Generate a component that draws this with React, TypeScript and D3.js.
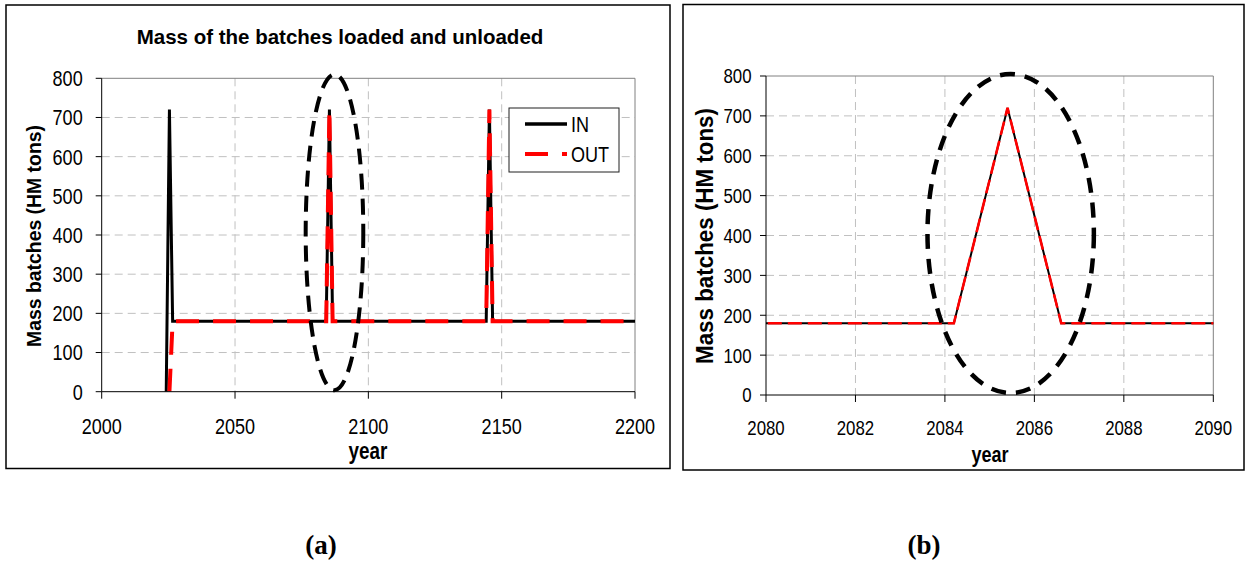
import * as d3 from 'd3';
import { useEffect, useRef } from 'react';

// batch mass (HM tons) per reload year
const inYears = [2024.2, 2025.4, 2026.6, 2084.2, 2085.4, 2086.6, 2144.2, 2145.4, 2146.6, 2200];
const inMass = [0, 720, 180, 180, 720, 180, 180, 720, 180, 180];
const outYears = [2025.4, 2026.6, 2084.2, 2085.4, 2086.6, 2144.2, 2145.4, 2146.6, 2200];
const outMass = [0, 180, 180, 720, 180, 180, 720, 180, 180];

const yTicks = [0, 100, 200, 300, 400, 500, 600, 700, 800];
const xTicksA = [2000, 2050, 2100, 2150, 2200];
const xTicksB = [2080, 2082, 2084, 2086, 2088, 2090];

const ARIAL = '"Liberation Sans", Arial, sans-serif';

interface PanelCfg {
  id: string;
  box: [number, number, number, number];
  plot: { left: number; right: number; top: number; bottom: number };
  xDomain: [number, number];
  xTicks: number[];
  tickFont: number;
  xLabelDy: number;
  yLabelGap: number;
  yTitle: { x: number; y: number; size: number; length: number };
  xTitle: { x: number; y: number; size: number };
  inWidth: number;
  outWidth: number;
  outDash: string;
  ellipse: { cx: number; cy: number; rx: number; ry: number; width: number; dash: string };
  title?: { x: number; y: number; size: number; text: string };
  legend?: boolean;
  caption: { x: number; text: string };
}

const panels: PanelCfg[] = [
  {
    id: 'a',
    box: [6, 5, 670, 468.5],
    plot: { left: 101.7, right: 635, top: 78.3, bottom: 391.7 },
    xDomain: [2000, 2200],
    xTicks: xTicksA,
    tickFont: 22,
    xLabelDy: 42,
    yLabelGap: 19,
    yTitle: { x: 34, y: 236, size: 21, length: 222 },
    xTitle: { x: 368, y: 459, size: 23 },
    inWidth: 3,
    outWidth: 4,
    outDash: '23,14',
    ellipse: { cx: 2087.3, cy: 407, rx: 10.8, ry: 403, width: 4, dash: '16,9' },
    title: { x: 340, y: 44, size: 20.5, text: 'Mass of the batches loaded and unloaded' },
    legend: true,
    caption: { x: 321, text: '(a)' },
  },
  {
    id: 'b',
    box: [683, 4.5, 1244, 470],
    plot: { left: 766, right: 1213.3, top: 76, bottom: 395 },
    xDomain: [2080, 2090],
    xTicks: xTicksB,
    tickFont: 20.5,
    xLabelDy: 40,
    yLabelGap: 14.5,
    yTitle: { x: 705, y: 236, size: 24, length: 256 },
    xTitle: { x: 990, y: 462, size: 22 },
    inWidth: 2,
    outWidth: 2.6,
    outDash: '14,6',
    ellipse: { cx: 2085.47, cy: 405, rx: 1.86, ry: 400, width: 4.5, dash: '15,10' },
    caption: { x: 924, text: '(b)' },
  },
];

// no Arial Narrow here, so squeeze Liberation Sans glyphs to a narrow width
function narrow(sel: d3.Selection<SVGTextElement, any, any, any>, factor = 0.82) {
  sel.each(function () {
    const len = this.getComputedTextLength();
    this.setAttribute('textLength', String(len * factor));
    this.setAttribute('lengthAdjust', 'spacingAndGlyphs');
  });
}

function drawPanel(svg: d3.Selection<SVGSVGElement, unknown, null, undefined>, cfg: PanelCfg) {
  const { plot } = cfg;
  const x = d3.scaleLinear().domain(cfg.xDomain).range([plot.left, plot.right]);
  const y = d3.scaleLinear().domain([0, 800]).range([plot.bottom, plot.top]);
  const g = svg.append('g');

  const [bx0, by0, bx1, by1] = cfg.box;
  g.append('rect')
    .attr('x', bx0)
    .attr('y', by0)
    .attr('width', bx1 - bx0)
    .attr('height', by1 - by0)
    .attr('fill', 'white')
    .attr('stroke', 'black')
    .attr('stroke-width', 1.5);

  if (cfg.title) {
    g.append('text')
      .attr('x', cfg.title.x)
      .attr('y', cfg.title.y)
      .attr('text-anchor', 'middle')
      .attr('font-family', ARIAL)
      .attr('font-weight', 'bold')
      .attr('font-size', cfg.title.size)
      .text(cfg.title.text);
  }

  // gridlines
  g.selectAll('.hgrid')
    .data(yTicks.filter((t) => t > 0 && t < 800))
    .join('line')
    .attr('x1', plot.left)
    .attr('x2', plot.right)
    .attr('y1', (d) => y(d))
    .attr('y2', (d) => y(d))
    .attr('stroke', '#c0c0c0')
    .attr('stroke-dasharray', '8,5');
  g.selectAll('.vgrid')
    .data(cfg.xTicks.slice(1, -1))
    .join('line')
    .attr('x1', (d) => x(d))
    .attr('x2', (d) => x(d))
    .attr('y1', plot.top)
    .attr('y2', plot.bottom)
    .attr('stroke', '#c0c0c0')
    .attr('stroke-dasharray', '8,5');

  // top/right frame
  g.append('path')
    .attr('d', `M${plot.left},${plot.top}H${plot.right}V${plot.bottom}`)
    .attr('fill', 'none')
    .attr('stroke', '#808080');

  const clipId = `clip-${cfg.id}`;
  svg
    .append('clipPath')
    .attr('id', clipId)
    .append('rect')
    .attr('x', plot.left)
    .attr('y', plot.top - 10)
    .attr('width', plot.right - plot.left)
    .attr('height', plot.bottom - plot.top + 10);

  const line = d3
    .line<[number, number]>()
    .x((d) => x(d[0]))
    .y((d) => y(d[1]));

  const lines = g.append('g').attr('clip-path', `url(#${clipId})`);
  lines
    .append('path')
    .attr('d', line(inYears.map((yr, i) => [yr, inMass[i]] as [number, number])))
    .attr('fill', 'none')
    .attr('stroke', 'black')
    .attr('stroke-width', cfg.inWidth);
  lines
    .append('path')
    .attr('d', line(outYears.map((yr, i) => [yr, outMass[i]] as [number, number])))
    .attr('fill', 'none')
    .attr('stroke', '#ff0000')
    .attr('stroke-width', cfg.outWidth)
    .attr('stroke-dasharray', cfg.outDash);

  // axes
  g.append('line')
    .attr('x1', plot.left)
    .attr('x2', plot.left)
    .attr('y1', plot.top)
    .attr('y2', plot.bottom)
    .attr('stroke', 'black');
  g.append('line')
    .attr('x1', plot.left)
    .attr('x2', plot.right)
    .attr('y1', plot.bottom)
    .attr('y2', plot.bottom)
    .attr('stroke', 'black');

  g.selectAll('.ytick')
    .data(yTicks)
    .join('line')
    .attr('x1', plot.left - 6)
    .attr('x2', plot.left)
    .attr('y1', (d) => y(d))
    .attr('y2', (d) => y(d))
    .attr('stroke', 'black');
  g.selectAll<SVGTextElement, number>('.ylab')
    .data(yTicks)
    .join('text')
    .attr('x', plot.left - cfg.yLabelGap)
    .attr('y', (d) => y(d))
    .attr('dy', '0.36em')
    .attr('text-anchor', 'end')
    .attr('font-family', ARIAL)
    .attr('font-size', cfg.tickFont)
    .text((d) => d)
    .call(narrow);

  g.selectAll('.xtick')
    .data(cfg.xTicks)
    .join('line')
    .attr('x1', (d) => x(d))
    .attr('x2', (d) => x(d))
    .attr('y1', plot.bottom)
    .attr('y2', plot.bottom + 7)
    .attr('stroke', 'black');
  g.selectAll<SVGTextElement, number>('.xlab')
    .data(cfg.xTicks)
    .join('text')
    .attr('x', (d) => x(d))
    .attr('y', plot.bottom + cfg.xLabelDy)
    .attr('text-anchor', 'middle')
    .attr('font-family', ARIAL)
    .attr('font-size', cfg.tickFont)
    .text((d) => d)
    .call(narrow);

  g.append('text')
    .attr('transform', `translate(${cfg.yTitle.x},${cfg.yTitle.y}) rotate(-90)`)
    .attr('dy', '0.35em')
    .attr('text-anchor', 'middle')
    .attr('font-family', ARIAL)
    .attr('font-weight', 'bold')
    .attr('font-size', cfg.yTitle.size)
    .attr('textLength', cfg.yTitle.length)
    .attr('lengthAdjust', 'spacingAndGlyphs')
    .text('Mass batches (HM tons)');

  g.append('text')
    .attr('x', cfg.xTitle.x)
    .attr('y', cfg.xTitle.y)
    .attr('text-anchor', 'middle')
    .attr('font-family', ARIAL)
    .attr('font-weight', 'bold')
    .attr('font-size', cfg.xTitle.size)
    .text('year')
    .call(narrow);

  // highlighted region
  const e = cfg.ellipse;
  g.append('ellipse')
    .attr('cx', x(e.cx))
    .attr('cy', y(e.cy))
    .attr('rx', x(e.cx + e.rx) - x(e.cx))
    .attr('ry', y(0) - y(e.ry))
    .attr('fill', 'none')
    .attr('stroke', 'black')
    .attr('stroke-width', e.width)
    .attr('stroke-dasharray', e.dash);

  if (cfg.legend) {
    const lg = g.append('g').attr('transform', 'translate(509,108)');
    lg.append('rect')
      .attr('width', 110)
      .attr('height', 64)
      .attr('fill', 'white')
      .attr('stroke', '#202020');
    const items = [
      { label: 'IN', color: 'black', width: cfg.inWidth + 0.5, dash: null as string | null },
      { label: 'OUT', color: '#ff0000', width: cfg.outWidth, dash: cfg.outDash },
    ];
    items.forEach((it, i) => {
      const ly = 16 + i * 30;
      lg.append('line')
        .attr('x1', 16)
        .attr('x2', 58)
        .attr('y1', ly)
        .attr('y2', ly)
        .attr('stroke', it.color)
        .attr('stroke-width', it.width)
        .attr('stroke-dasharray', it.dash);
      lg.append('text')
        .attr('x', 62)
        .attr('y', ly + 8)
        .attr('font-family', ARIAL)
        .attr('font-size', 22)
        .text(it.label)
        .call(narrow);
    });
  }

  svg
    .append('text')
    .attr('x', cfg.caption.x)
    .attr('y', 554)
    .attr('text-anchor', 'middle')
    .attr('font-family', '"Liberation Serif", "Times New Roman", serif')
    .attr('font-weight', 'bold')
    .attr('font-size', 27)
    .text(cfg.caption.text);
}

export default function App() {
  const ref = useRef<SVGSVGElement | null>(null);

  useEffect(() => {
    if (!ref.current) return;
    const svg = d3.select(ref.current);
    svg.selectAll('*').remove();
    panels.forEach((p) => drawPanel(svg, p));
  }, []);

  return (
    <div style={{ position: 'absolute', left: 0, top: 0 }}>
      <svg ref={ref} width={1250} height={563} style={{ display: 'block', background: 'white' }} />
    </div>
  );
}
